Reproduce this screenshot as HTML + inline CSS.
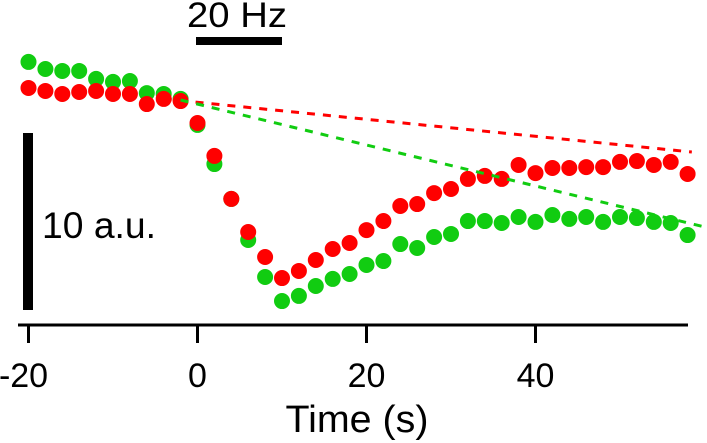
<!DOCTYPE html>
<html><head><meta charset="utf-8"><style>
html,body{margin:0;padding:0;background:#fff;}
svg{display:block;font-family:"Liberation Sans",Arial,sans-serif;}
</style></head><body>
<svg id="chart" width="707" height="443" viewBox="0 0 707 443" xmlns="http://www.w3.org/2000/svg">
<text x="237" y="27" font-size="35" text-anchor="middle" textLength="100" lengthAdjust="spacingAndGlyphs">20 Hz</text>
<rect x="196" y="37" width="86" height="8" fill="#000"/>
<rect x="23" y="133" width="10" height="177" fill="#000"/>
<text x="42" y="238" font-size="37" textLength="114" lengthAdjust="spacingAndGlyphs">10 a.u.</text>
<g id="plot"></g>
<line x1="18" y1="325" x2="688" y2="325" stroke="#000" stroke-width="3"/>
<g id="xaxis"></g>
<text x="357" y="432" font-size="38" text-anchor="middle" textLength="143" lengthAdjust="spacingAndGlyphs">Time (s)</text>
</svg>
<script>
const times = [];
for (let i = 0; i < 40; i++) times.push(-20 + 2 * i);
const greenValues = [14.75,14.35,14.24,14.24,13.79,13.62,13.67,12.99,12.94,12.66,11.19,8.98,7.01,4.69,2.60,1.24,1.53,2.09,2.49,2.77,3.28,3.50,4.46,4.24,4.86,5.03,5.76,5.76,5.65,5.99,5.71,6.10,5.88,5.99,5.71,5.99,5.93,5.71,5.65,4.97];
const redValues = [13.28,13.11,12.94,13.05,13.11,12.94,12.94,12.37,12.66,12.54,11.30,9.44,7.01,5.14,3.73,2.54,2.94,3.56,4.18,4.52,5.25,5.76,6.61,6.72,7.34,7.57,8.14,8.31,8.14,8.93,8.47,8.76,8.76,8.81,8.81,9.10,9.15,8.93,9.10,8.42];
const redTrendT = [-4, 58.5];
const redTrendV = [12.66, 9.66];
const greenTrendT = [-2, 60.5];
const greenTrendV = [12.6, 5.37];
const tickValues = [-20, 0, 20, 40];
const tickLabels = ["-20", "0", "20", "40"];

const NS = "http://www.w3.org/2000/svg";
function xScale(t) { return 197.5 + 8.45 * t; }
function yScale(v) { return 323 - 17.7 * v; }
const plot = document.getElementById('plot');
const xaxis = document.getElementById('xaxis');

function dots(vals, color, name) {
  vals.forEach((v, i) => {
    const c = document.createElementNS(NS, 'circle');
    c.setAttribute('cx', xScale(times[i]));
    c.setAttribute('cy', yScale(v));
    c.setAttribute('r', 8);
    c.setAttribute('fill', color);
    
    
    plot.appendChild(c);
  });
}
dots(greenValues, '#11cc11', 'green-point');
dots(redValues, '#ff0000', 'red-point');

function trend(ts, vs, color, name) {
  const l = document.createElementNS(NS, 'line');
  l.setAttribute('x1', xScale(ts[0])); l.setAttribute('y1', yScale(vs[0]));
  l.setAttribute('x2', xScale(ts[1])); l.setAttribute('y2', yScale(vs[1]));
  l.setAttribute('stroke', color); l.setAttribute('stroke-width', 3);
  l.setAttribute('stroke-dasharray', '8 8');
  
  
  plot.appendChild(l);
}
trend(redTrendT, redTrendV, '#ff0000', 'red-trend-line');
trend(greenTrendT, greenTrendV, '#11cc11', 'green-trend-line');

tickValues.forEach((t, i) => {
  const x = xScale(t);
  const tk = document.createElementNS(NS, 'line');
  tk.setAttribute('x1', x); tk.setAttribute('x2', x);
  tk.setAttribute('y1', 325); tk.setAttribute('y2', 343);
  tk.setAttribute('stroke', '#000'); tk.setAttribute('stroke-width', 3);
  
  
  xaxis.appendChild(tk);
  const tx = document.createElementNS(NS, 'text');
  tx.setAttribute('x', x - (tickLabels[i].startsWith('-') ? 5 : 0));
  tx.setAttribute('y', 387);
  tx.setAttribute('font-size', 34);
  tx.setAttribute('text-anchor', 'middle');
  tx.textContent = tickLabels[i];
  
  
  xaxis.appendChild(tx);
});
</script>
</body></html>
